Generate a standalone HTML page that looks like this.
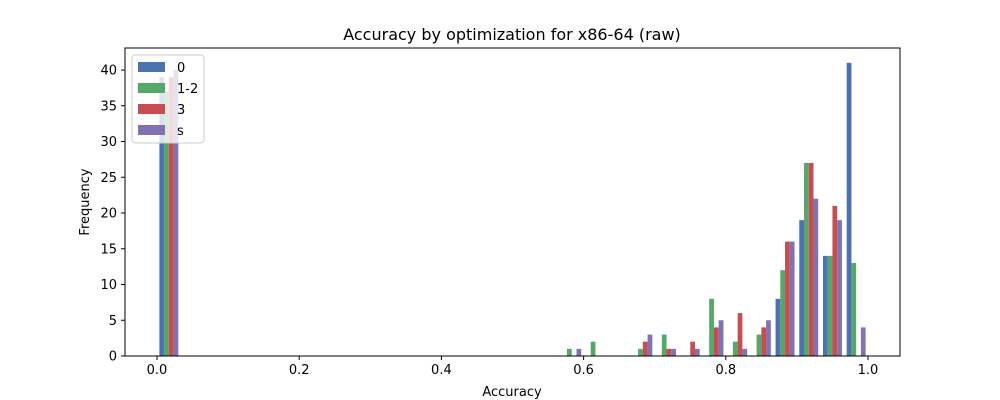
<!DOCTYPE html>
<html><head><meta charset="utf-8"><style>body{margin:0;background:#fff}svg{display:block;font-family:"DejaVu Sans","Liberation Sans",sans-serif}</style></head>
<body>
<svg id="c" width="1000" height="400"></svg>
<script>
const seriesNames=["0","1-2","3","s"];
const colors=["#4C72B0","#55A868","#C44E52","#8172B2"];
const binCount=30;
// counts per bin index (0..29) for each series
const s0=[39,0,0,0,0,0,0,0,0,0,0,0,0,0,0,0,0,0,0,0,0,0,0,0,0,0,8,19,14,41];
const s12=[37,0,0,0,0,0,0,0,0,0,0,0,0,0,0,0,0,1,2,0,1,3,0,8,2,3,12,27,14,13];
const s3=[39,0,0,0,0,0,0,0,0,0,0,0,0,0,0,0,0,0,0,0,2,1,2,4,6,4,16,27,21,0];
const ss=[40,0,0,0,0,0,0,0,0,0,0,0,0,0,0,0,0,1,0,0,3,1,1,5,1,5,16,22,19,4];
const xTicks=[0,0.2,0.4,0.6,0.8,1.0];
const yTicks=[0,5,10,15,20,25,30,35,40];
const series=[s0,s12,s3,ss];
const L=125,R=900,T=48,B=356;
const X=v=>157+v*711, Y=v=>B-v*7.15;
const svg=document.getElementById('c');const NS='http://www.w3.org/2000/svg';
function mk(t,a,p){const e=document.createElementNS(NS,t);for(const k in a)e.setAttribute(k,a[k]);(p||svg).appendChild(e);return e;}
const bw=1/binCount;
series.forEach((s,si)=>{s.forEach((v,i)=>{if(!v)return;const x0=X(i*bw+bw*0.1+si*bw*0.2);const w=X(bw*0.2)-X(0);
const r=mk('rect',{x:x0,y:Y(v),width:w,height:Y(0)-Y(v),fill:colors[si]});

});});
const ax=mk('rect',{x:L,y:T,width:R-L,height:B-T,fill:'none',stroke:'#000','stroke-width':1});

xTicks.forEach(v=>{mk('line',{x1:X(v),x2:X(v),y1:B,y2:B+4,stroke:'#000'});const t=mk('text',{x:X(v),y:B+18,'text-anchor':'middle','font-size':13});t.textContent=v.toFixed(1);
});
yTicks.forEach(v=>{mk('line',{x1:L-4,x2:L,y1:Y(v),y2:Y(v),stroke:'#000'});const t=mk('text',{x:L-8,y:Y(v)+4.5,'text-anchor':'end','font-size':13});t.textContent=v;
});
let t=mk('text',{x:512,y:40,'text-anchor':'middle','font-size':16});t.textContent='Accuracy by optimization for x86-64 (raw)';

t=mk('text',{x:512,y:396,'text-anchor':'middle','font-size':13});t.textContent='Accuracy';

t=mk('text',{x:89,y:202,'text-anchor':'middle','font-size':13,transform:'rotate(-90 89 202)'});t.textContent='Frequency';

const lg=mk('g',{});
mk('rect',{x:132,y:55,width:72,height:88,rx:3,fill:'#fff','fill-opacity':0.8,stroke:'#ccc'},lg);
seriesNames.forEach((n,i)=>{const g=mk('g',{},lg);
mk('rect',{x:138,y:62+i*21,width:27,height:10,fill:colors[i]},g);
const tt=mk('text',{x:177,y:72+i*21,'font-size':13},g);tt.textContent=n;});
</script>
</body></html>
